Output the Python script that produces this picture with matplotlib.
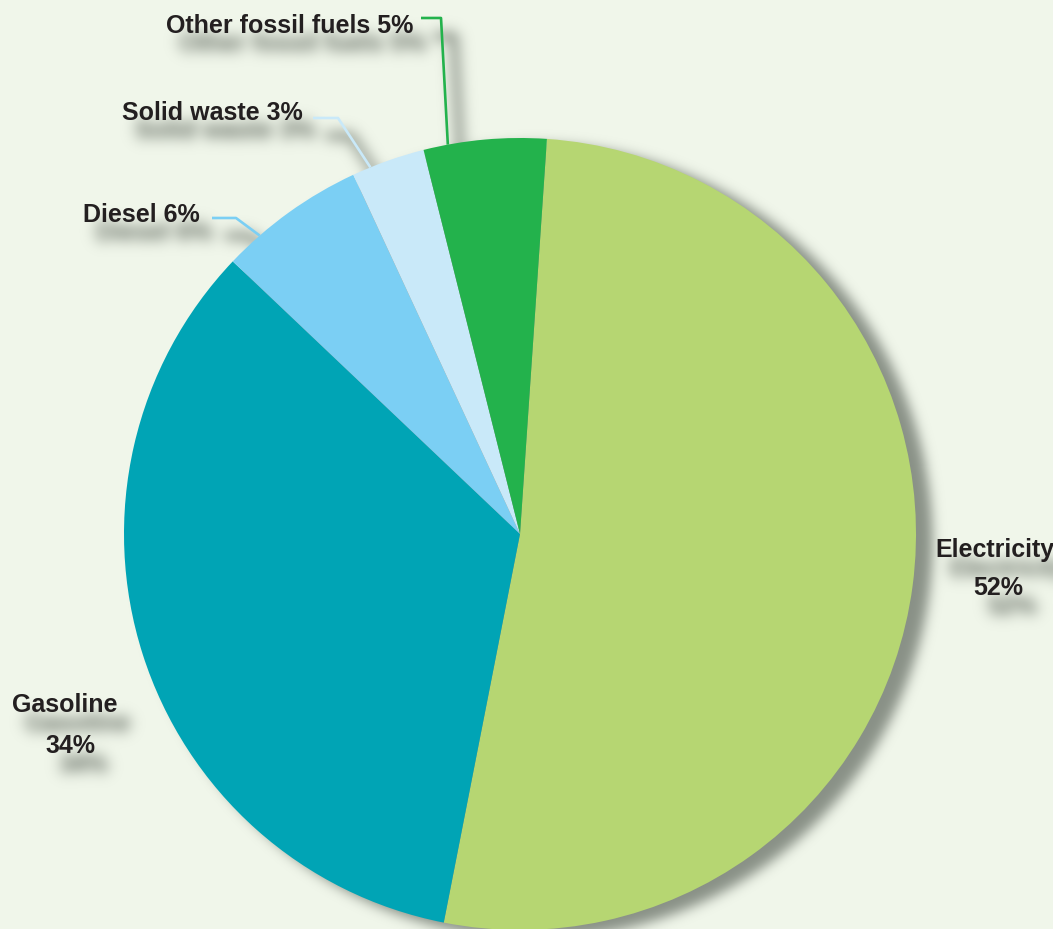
import numpy as np
import matplotlib
matplotlib.use("Agg")
import matplotlib.pyplot as plt

# energy sources, share in percent
sources = ["Electricity", "Gasoline", "Diesel", "Solid waste", "Other fossil fuels"]
shares = [52, 34, 6, 3, 5]
colors = ["#b6d672", "#00a4b5", "#7bcff4", "#c9e9f9", "#23b24c"]

BG = "#f0f6ea"
INK = "#231f20"
W, H = 1053, 929
CX, CY, R = 520, 534, 396       # pie centre/radius in pixels (y from top)
START = 3.9                     # first wedge starts this many degrees clockwise from 12 o'clock
FAMILY = ["Liberation Sans", "DejaVu Sans"]


def py(y):
    """pixel row (from top) -> data y"""
    return H - y


def rim_point(angle_cw):
    """point on the pie rim, angle clockwise from top, in data coords"""
    t = np.deg2rad(angle_cw)
    return CX + R * np.sin(t), py(CY - R * np.cos(t))


def blur(a, sigma):
    r = int(3 * sigma)
    k = np.exp(-0.5 * (np.arange(-r, r + 1) / sigma) ** 2)
    k /= k.sum()
    out = a
    for axis in (0, 1):
        acc = np.zeros_like(out)
        for i, w in enumerate(k):
            acc += w * np.roll(out, i - r, axis=axis)
        out = acc
    return out


def soft_shadow(mask, dx, dy, sigma):
    pad = 60
    a = np.pad(mask, pad)
    a = np.roll(np.roll(a, dx, axis=1), dy, axis=0)
    a = blur(a, sigma)
    return a[pad:-pad, pad:-pad]


def new_canvas(transparent=False):
    f = plt.figure(figsize=((W + 0.01) / 100, (H + 0.01) / 100), dpi=100)
    a = f.add_axes([0, 0, 1, 1])
    a.set_xlim(0, W)
    a.set_ylim(0, H)
    a.set_aspect("equal")
    a.axis("off")
    if transparent:
        f.patch.set_alpha(0)
    return f, a


def alpha_mask(f):
    f.canvas.draw()
    m = np.asarray(f.canvas.buffer_rgba())[..., 3] / 255.0
    plt.close(f)
    return m


# wedge angle ranges (clockwise from top)
edges = START + 360 * np.concatenate([[0], np.cumsum(shares)]) / sum(shares)
span = {s: (edges[i], edges[i + 1]) for i, s in enumerate(sources)}


def frac_angle(name, f):
    a0, a1 = span[name]
    return a0 + f * (a1 - a0)


labels = [
    (413, 33, f"Other fossil fuels {shares[4]}%", "right"),
    (303, 120, f"Solid waste {shares[3]}%", "right"),
    (83, 222, f"Diesel {shares[2]}%", "left"),
    (935, 557, "Electricity", "left"),
    (998, 595, f"{shares[0]}%", "center"),
    (12, 712, "Gasoline", "left"),
    (70, 753, f"{shares[1]}%", "center"),
]
leaders = [
    ([(421, 18), (441, 18)], frac_angle("Other fossil fuels", 0.2), colors[4]),
    ([(313, 118), (338, 118)], frac_angle("Solid waste", 0.25), colors[3]),
    ([(212, 218), (236, 218)], frac_angle("Diesel", 0.25), colors[2]),
]


def draw_labels(ax, color=INK):
    for x, y, txt, ha in labels:
        ax.text(x, py(y), txt, ha=ha, va="baseline", color=color, zorder=4,
                family=FAMILY, fontweight="bold", fontsize=18)


def draw_leaders(ax, color=None, lw=1.9):
    for pts, ang, c in leaders:
        xs = [p[0] for p in pts]
        ys = [py(p[1]) for p in pts]
        ex, ey = rim_point(ang)
        ax.plot(xs + [ex], ys + [ey], color=color or c, lw=lw, zorder=2.6,
                solid_capstyle="butt")


# shadow masks: pie disc, and the labels with their leader lines
f, a = new_canvas(transparent=True)
a.add_patch(plt.Circle((CX, py(CY)), R, color="k"))
pie_mask = alpha_mask(f)

f, a = new_canvas(transparent=True)
draw_labels(a, "k")
draw_leaders(a, "k", lw=4)
text_mask = alpha_mask(f)

pie_sh = np.clip(soft_shadow(pie_mask, 15, 8, 6) * 0.85, 0, 1)
txt_sh = np.clip(soft_shadow(text_mask, 13, 19, 7) * 1.3, 0, 1)
sh_alpha = 1 - (1 - pie_sh) * (1 - txt_sh)
sh_img = np.zeros(sh_alpha.shape + (4,))
sh_img[..., 0], sh_img[..., 1], sh_img[..., 2] = 0.47, 0.50, 0.46
sh_img[..., 3] = sh_alpha

fig, ax = new_canvas()
fig.patch.set_facecolor(BG)
ax.imshow(sh_img, extent=(0, W, 0, H), origin="upper", interpolation="none", zorder=0.5)

ax.pie(shares, colors=colors, startangle=90 - START, counterclock=False,
       center=(CX, py(CY)), radius=R, wedgeprops=dict(linewidth=0))
draw_leaders(ax)
draw_labels(ax)

ax.set_xlim(0, W)
ax.set_ylim(0, H)
ax.set_aspect("equal")
ax.axis("off")

fig.savefig("out.png", dpi=100, facecolor=BG)
